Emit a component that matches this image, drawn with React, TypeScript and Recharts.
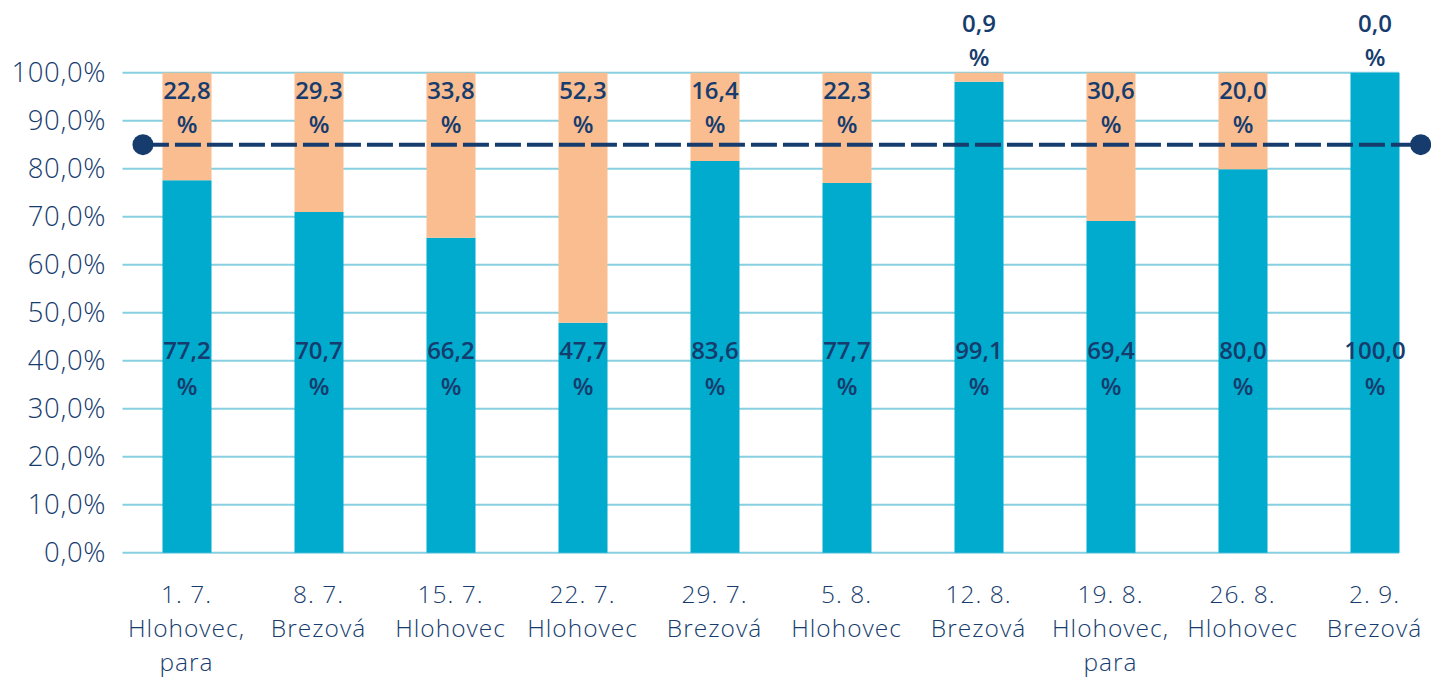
import React from 'react';
import { ComposedChart, Bar, XAxis, YAxis, CartesianGrid, LabelList, Scatter } from 'recharts';

const dates = ['1. 7.', '8. 7.', '15. 7.', '22. 7.', '29. 7.', '5. 8.', '12. 8.', '19. 8.', '26. 8.', '2. 9.'];
const places = [
  'Hlohovec, para', 'Brezová', 'Hlohovec', 'Hlohovec', 'Brezová',
  'Hlohovec', 'Brezová', 'Hlohovec, para', 'Hlohovec', 'Brezová'
];

// bar heights as they are drawn
const blueShare = [77.6, 71.0, 65.6, 47.9, 81.6, 77.0, 98.1, 69.1, 79.9, 100];
const orangeShare = [22.4, 29.0, 34.4, 52.1, 18.4, 23.0, 1.9, 30.9, 20.1, 0];

// values printed on the bars
const blueLabels = [77.2, 70.7, 66.2, 47.7, 83.6, 77.7, 99.1, 69.4, 80.0, 100.0];
const orangeLabels = [22.8, 29.3, 33.8, 52.3, 16.4, 22.3, 0.9, 30.6, 20.0, 0.0];

const yTicks = [0, 10, 20, 30, 40, 50, 60, 70, 80, 90, 100];

// target line (x in category units)
const targetLine = [
  { x: 0.17, y: 85 },
  { x: 9.85, y: 85 }
];

const BLUE = '#00abcd';
const ORANGE = '#fabd90';
const NAVY = '#163c6e';
const GRID = '#86d0e2';
const FONT = '"Open Sans", Lato, sans-serif';

const BAR_SIZE = 49;
const BAND = 132;
const BLUE_LABEL_LEVEL = 38.3;

const data = dates.map((d, i) => ({
  name: d,
  blue: blueShare[i],
  orange: orangeShare[i],
  blueLabel: blueLabels[i],
  orangeLabel: orangeLabels[i]
}));

const fmt = (v: number) => v.toFixed(1).replace('.', ',');

const labelStyle = {
  fontFamily: FONT,
  fontSize: 24,
  fontWeight: 600,
  fill: NAVY
};

const BlueLabel = (props: any) => {
  const { x, y, width, height, value, index } = props;
  const base = y + height;
  const cy = base - height * (BLUE_LABEL_LEVEL / blueShare[index]);
  const cx = x + width / 2;
  return (
    <g>
      <text x={cx} y={cy - 19} textAnchor="middle" dominantBaseline="central" {...labelStyle}>
        {fmt(value)}
      </text>
      <text x={cx} y={cy + 16.5} textAnchor="middle" dominantBaseline="central" {...labelStyle}>
        %
      </text>
    </g>
  );
};

// orange labels are hung on the blue bar, so the 0,0 one is drawn too
const OrangeLabel = (props: any) => {
  const { x, y, width, height, value, index } = props;
  const cx = x + width / 2;
  const segH = height * (orangeShare[index] / blueShare[index]);
  const top = y - segH;
  const outside = segH < 30;
  const y1 = outside ? top - 50 : top + 17;
  const y2 = outside ? top - 16 : top + 51;
  return (
    <g>
      <text x={cx} y={y1} textAnchor="middle" dominantBaseline="central" {...labelStyle}>
        {fmt(value)}
      </text>
      <text x={cx} y={y2} textAnchor="middle" dominantBaseline="central" {...labelStyle}>
        %
      </text>
    </g>
  );
};

const DateTick = (props: any) => {
  const { x, y, payload } = props;
  const i = dates.indexOf(payload.value);
  const parts = places[i].split(', ');
  const lines = [dates[i], ...parts.map((p, k) => (k < parts.length - 1 ? p + ',' : p))];
  return (
    <g>
      {lines.map((t, k) => (
        <text
          key={k}
          x={x}
          y={y + 41 + k * 34}
          textAnchor="middle"
          dominantBaseline="central"
          fontFamily={FONT}
          fontSize={24.5}
          fontWeight={300}
          letterSpacing={1}
          fill={NAVY}
        >
          {t}
        </text>
      ))}
    </g>
  );
};

const GridLine = (props: any) => {
  const { x1, x2, y1, y2 } = props;
  return <line x1={x1 + 2} x2={x2 - (BAND - BAR_SIZE) / 2} y1={y1} y2={y2} stroke={GRID} strokeWidth={2} />;
};

const Dot = (props: any) => <circle cx={props.cx} cy={props.cy} r={10.5} fill={NAVY} />;

export default function App() {
  return (
    <div style={{ position: 'absolute', left: 0, top: 0, width: 1431, height: 680, overflow: 'hidden', background: '#fff' }}>
      <ComposedChart
        width={1445}
        height={680}
        data={data}
        margin={{ top: 72.7, right: 4.5, left: 0, bottom: 0 }}
        barCategoryGap={BAND - BAR_SIZE}
      >
        <CartesianGrid xAxisId="cat" vertical={false} horizontal={GridLine} />
        <XAxis
          xAxisId="cat"
          dataKey="name"
          height={127.3}
          axisLine={false}
          tickLine={false}
          tickSize={0}
          tickMargin={0}
          interval={0}
          tick={DateTick}
        />
        <XAxis xAxisId="lab" dataKey="name" hide />
        <XAxis xAxisId="num" type="number" dataKey="x" domain={[0, 10]} allowDataOverflow hide />
        <YAxis
          width={120.5}
          domain={[0, 100]}
          ticks={yTicks}
          interval={0}
          axisLine={false}
          tickLine={false}
          tickSize={0}
          tickMargin={14.5}
          tickFormatter={(v: number) => `${fmt(v)}%`}
          tick={{ fontFamily: FONT, fontSize: 27.5, fontWeight: 300, fill: NAVY, letterSpacing: 0.6 }}
        />
        <Bar xAxisId="cat" dataKey="blue" stackId="a" fill={BLUE} barSize={BAR_SIZE} isAnimationActive={false} />
        <Bar xAxisId="cat" dataKey="orange" stackId="a" fill={ORANGE} barSize={BAR_SIZE} isAnimationActive={false} />
        {/* invisible copy of the blue bars on its own axis, drawn last so the labels sit on top */}
        <Bar xAxisId="lab" dataKey="blue" fill="none" barSize={BAR_SIZE} isAnimationActive={false} legendType="none">
          <LabelList dataKey="blueLabel" content={BlueLabel} />
          <LabelList dataKey="orangeLabel" content={OrangeLabel} />
        </Bar>
        <Scatter
          xAxisId="num"
          data={targetLine}
          dataKey="y"
          line={{ stroke: NAVY, strokeWidth: 4, strokeDasharray: '26 6' }}
          shape={Dot}
          isAnimationActive={false}
        />
      </ComposedChart>
    </div>
  );
}
